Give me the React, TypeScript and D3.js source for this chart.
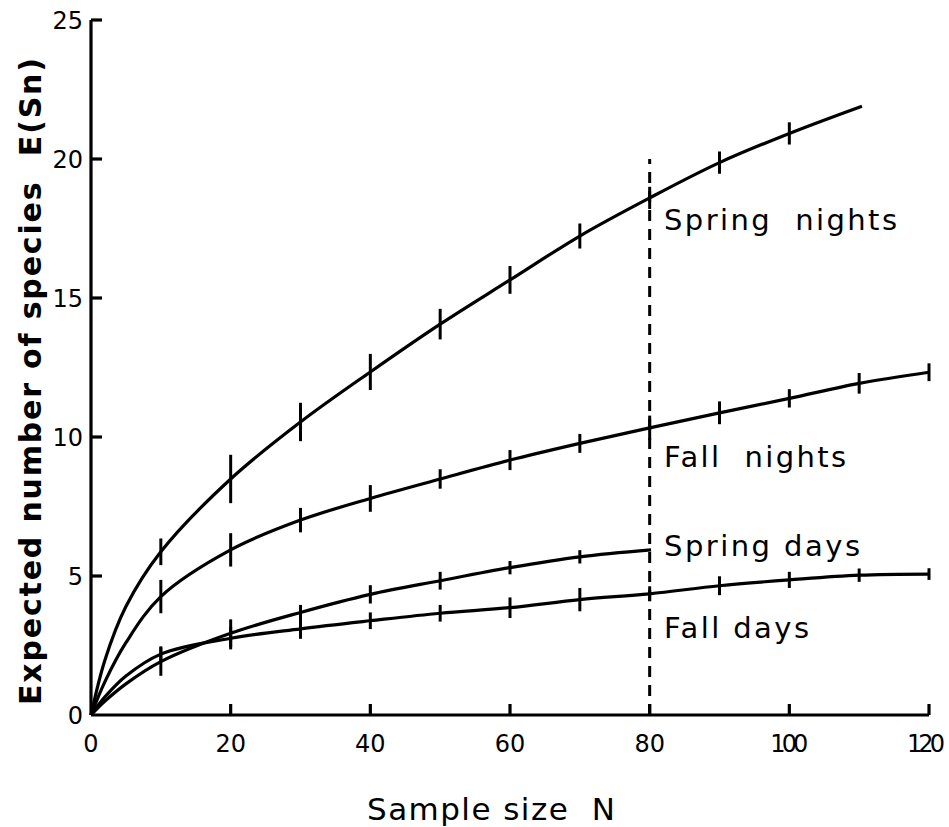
import { useEffect, useRef } from "react";
import * as d3 from "d3";

// sample sizes N where values were read (error bars drawn at 10..120)
const sampleSizes = [2, 5, 10, 20, 30, 40, 50, 60, 70, 80, 90, 100, 110, 120];

// expected species E(Sn), with half error-bar lengths
const springNights = [1.98, 3.9, 5.87, 8.49, 10.54, 12.34, 14.06, 15.65, 17.23, 18.6, 19.87, 20.92, 21.9];
const springNightsErr = [0, 0, 0.48, 0.87, 0.69, 0.65, 0.55, 0.5, 0.45, 0.4, 0.4, 0.4, 0];
const fallNights = [1.2, 2.6, 4.26, 5.94, 7.01, 7.79, 8.49, 9.17, 9.77, 10.33, 10.87, 11.39, 11.93, 12.33];
const fallNightsErr = [0, 0, 0.6, 0.6, 0.44, 0.48, 0.35, 0.36, 0.34, 0.44, 0.41, 0.33, 0.37, 0.32];
const springDays = [0.5, 1.12, 1.92, 2.94, 3.69, 4.34, 4.83, 5.3, 5.69, 5.94];
const springDaysErr = [0, 0, 0.51, 0.5, 0.27, 0.33, 0.32, 0.24, 0.24, 0];
const fallDays = [0.65, 1.4, 2.19, 2.76, 3.1, 3.39, 3.66, 3.86, 4.15, 4.36, 4.65, 4.86, 5.03, 5.07];
const fallDaysErr = [0, 0, 0.28, 0.4, 0.36, 0.3, 0.3, 0.37, 0.42, 0.27, 0.34, 0.29, 0.24, 0.21];

const seriesNames = ["Spring  nights", "Fall  nights", "Spring days", "Fall days"];
const xTicks = [0, 20, 40, 60, 80, 100, 120];
const yTicks = [0, 5, 10, 15, 20, 25];

const FONT = "'DejaVu Sans', sans-serif";

const App = () => {
  const svgRef = useRef<SVGSVGElement>(null);
  const width = 949;
  const height = 827;

  useEffect(() => {
    const svg = d3.select(svgRef.current);
    svg.selectAll("*").remove();

    const x = d3.scaleLinear().domain([0, 120]).range([91, 929]);
    const y = d3.scaleLinear().domain([0, 25]).range([715, 20]);

    // axes
    const axisG = svg.append("g").attr("stroke", "#000").attr("stroke-width", 3.2).attr("fill", "none");
    axisG.append("line").attr("x1", x(0)).attr("x2", x(0)).attr("y1", y(0)).attr("y2", y(25));
    axisG.append("line").attr("x1", x(0)).attr("x2", x(120)).attr("y1", y(0)).attr("y2", y(0));
    yTicks.slice(1).forEach((t) => {
      axisG.append("line").attr("x1", x(0)).attr("x2", x(0) + 11).attr("y1", y(t)).attr("y2", y(t));
    });
    xTicks.slice(1).forEach((t) => {
      axisG.append("line").attr("x1", x(t)).attr("x2", x(t)).attr("y1", y(0)).attr("y2", y(0) - 11);
    });

    // tick labels
    svg
      .append("g")
      .selectAll("text")
      .data(yTicks)
      .join("text")
      .attr("x", x(0) - 8)
      .attr("y", (d) => y(d) + 9)
      .attr("text-anchor", "end")
      .attr("font-family", FONT)
      .attr("font-size", 24)
      .text((d) => d);
    svg
      .append("g")
      .selectAll("text")
      .data(xTicks)
      .join("text")
      .attr("x", (d) => x(d) - (d === 120 ? 3 : 0))
      .attr("y", y(0) + 37)
      .attr("text-anchor", "middle")
      .attr("font-family", FONT)
      .attr("font-size", 24)
      .attr("textLength", (d) => (d >= 100 ? 38 : null))
      .attr("lengthAdjust", "spacing")
      .text((d) => d);

    // axis titles
    svg
      .append("text")
      .attr("x", 367)
      .attr("y", 820)
      .attr("font-family", FONT)
      .attr("font-size", 31)
      .attr("textLength", 248)
      .attr("lengthAdjust", "spacing")
      .style("white-space", "pre")
      .text("Sample size  N");
    svg
      .append("text")
      .attr("transform", "translate(41,705) rotate(-90)")
      .attr("font-family", FONT)
      .attr("font-weight", "bold")
      .attr("font-size", 30)
      .attr("textLength", 647)
      .attr("lengthAdjust", "spacing")
      .style("white-space", "pre")
      .text("Expected number of species  E(Sn)");

    // dashed reference line at N = 80
    svg
      .append("line")
      .attr("x1", x(80))
      .attr("x2", x(80))
      .attr("y1", y(0))
      .attr("y2", y(20))
      .attr("stroke", "#000")
      .attr("stroke-width", 3)
      .attr("stroke-dasharray", "11,8");

    const series = [
      { vals: springNights, err: springNightsErr, endX: 110.4 },
      { vals: fallNights, err: fallNightsErr, endX: 120 },
      { vals: springDays, err: springDaysErr, endX: 80.2 },
      { vals: fallDays, err: fallDaysErr, endX: 120 },
    ];

    const line = d3
      .line<[number, number]>()
      .x((d) => x(d[0]))
      .y((d) => y(d[1]))
      .curve(d3.curveCatmullRom.alpha(0.5));

    series.forEach((s) => {
      const pts: [number, number][] = [[0, 0]];
      s.vals.forEach((v, i) => pts.push([i === s.vals.length - 1 ? s.endX : sampleSizes[i], v]));
      svg
        .append("path")
        .attr("d", line(pts))
        .attr("fill", "none")
        .attr("stroke", "#000")
        .attr("stroke-width", 3.2)
        .attr("stroke-linejoin", "round");
      s.vals.forEach((v, i) => {
        if (!s.err[i]) return;
        svg
          .append("line")
          .attr("x1", x(sampleSizes[i]))
          .attr("x2", x(sampleSizes[i]))
          .attr("y1", y(v - s.err[i]))
          .attr("y2", y(v + s.err[i]))
          .attr("stroke", "#000")
          .attr("stroke-width", 3);
      });
    });

    // series labels
    const labelPos = [
      { y: 230, w: 233 },
      { y: 467, w: 182 },
      { y: 556, w: 196 },
      { y: 638, w: 145 },
    ];
    seriesNames.forEach((name, i) => {
      svg
        .append("text")
        .attr("x", 664)
        .attr("y", labelPos[i].y)
        .attr("font-family", FONT)
        .attr("font-size", 29)
        .attr("textLength", labelPos[i].w)
        .attr("lengthAdjust", "spacing")
        .style("white-space", "pre")
        .text(name);
    });
  }, []);

  return (
    <svg
      ref={svgRef}
      width={width}
      height={height}
      style={{ position: "absolute", left: 0, top: 0, background: "#fff" }}
    />
  );
};

export default App;
